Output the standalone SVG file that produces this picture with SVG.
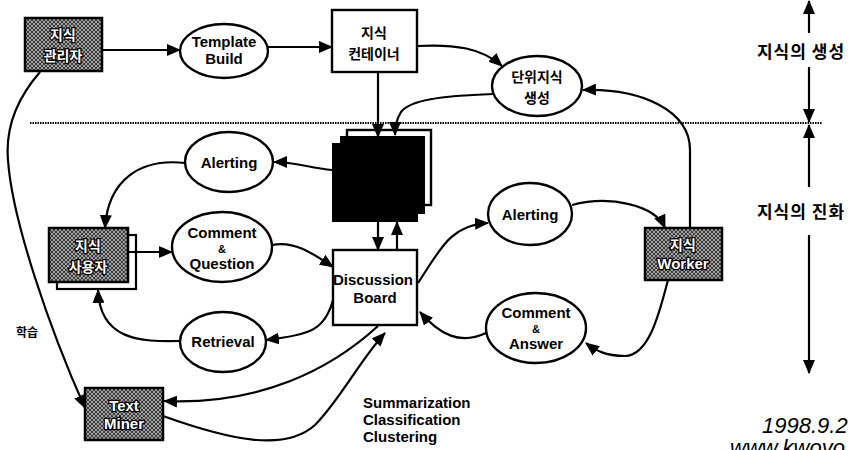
<svg xmlns="http://www.w3.org/2000/svg" width="855" height="450" viewBox="0 0 855 450">
<defs>
<marker id="ah" markerUnits="userSpaceOnUse" markerWidth="14" markerHeight="12" refX="13" refY="6" orient="auto"><path d="M0,0 L14,6 L0,12 z" fill="#000"/></marker>
<pattern id="hatch" width="4" height="4" patternUnits="userSpaceOnUse"><rect width="4" height="4" fill="#a0a0a0"/><path d="M0,0 L4,4 M4,0 L0,4" stroke="#333" stroke-width="0.9"/></pattern>
<style>
.n{fill:#fff;stroke:#000;stroke-width:2.4}
.g{fill:url(#hatch);stroke:#000;stroke-width:2.5}
.t{font-family:"Liberation Sans",Arial,sans-serif;font-weight:bold;font-size:15px;text-anchor:middle;fill:#000}
.a{font-size:11px}
.k{font-family:"Noto Sans CJK KR","Liberation Sans",sans-serif;font-weight:bold;font-size:14px;text-anchor:middle;fill:#000}
.w{fill:#fff;stroke:#000;stroke-width:2.5;paint-order:stroke}
.c path{fill:none;stroke:#000;stroke-width:2.2}
.i{font-family:"Liberation Sans",Arial,sans-serif;font-style:italic;font-size:22px}
</style>
</defs>
<rect width="855" height="450" fill="#fff"/>
<line x1="30" y1="123" x2="822" y2="123" stroke="#000" stroke-width="2" stroke-dasharray="1.5 1"/>

<g id="manager"><rect class="g" x="25" y="18" width="77" height="53"/><text class="k w" x="63" y="40">지식</text><text class="k w" x="63" y="61">관리자</text></g>
<g id="template"><ellipse class="n" cx="224" cy="51" rx="44" ry="27"/><text class="t" x="224" y="47">Template</text><text class="t" x="224" y="64">Build</text></g>
<g id="container"><rect class="n" x="332" y="10" width="85" height="62"/><text class="k" x="374" y="38">지식</text><text class="k" x="374" y="59">컨테이너</text></g>
<g id="unit"><ellipse class="n" cx="537" cy="86" rx="45" ry="30"/><text class="k" x="537" y="82">단위지식</text><text class="k" x="537" y="103">생성</text></g>
<g id="store"><rect x="347" y="130" width="84" height="75" fill="#fff" stroke="#000" stroke-width="2.4"/><rect x="340" y="136" width="85" height="78" fill="#000"/><rect x="332" y="143" width="86" height="79" fill="#000"/></g>
<g id="alert1"><ellipse class="n" cx="229" cy="162" rx="44" ry="30"/><text class="t" x="229" y="168">Alerting</text></g>
<g id="user"><rect x="57" y="235" width="79" height="54" fill="#fff" stroke="#000" stroke-width="2.2"/><rect class="g" x="49" y="228" width="79" height="54"/><text class="k w" x="88" y="251">지식</text><text class="k w" x="88" y="272">사용자</text></g>
<g id="cq"><ellipse class="n" cx="222" cy="247" rx="50" ry="35"/><text class="t" x="222" y="238">Comment</text><text class="t a" x="222" y="253">&amp;</text><text class="t" x="222" y="269">Question</text></g>
<g id="board"><rect class="n" x="333" y="250" width="84" height="75"/><text class="t" x="373" y="285">Discussion</text><text class="t" x="375" y="303">Board</text></g>
<g id="alert2"><ellipse class="n" cx="530" cy="214" rx="42" ry="31"/><text class="t" x="530" y="220">Alerting</text></g>
<g id="worker"><rect class="g" x="645" y="228" width="77" height="52"/><text class="k w" x="683" y="250">지식</text><text class="t w" x="683" y="269">Worker</text></g>
<g id="ca"><ellipse class="n" cx="536" cy="328" rx="50" ry="35"/><text class="t" x="536" y="318">Comment</text><text class="t a" x="536" y="333">&amp;</text><text class="t" x="536" y="349">Answer</text></g>
<g id="retrieval"><ellipse class="n" cx="223" cy="342" rx="43" ry="30"/><text class="t" x="223" y="347">Retrieval</text></g>
<g id="miner"><rect class="g" x="85" y="388" width="78" height="52"/><text class="t w" x="124" y="411">Text</text><text class="t w" x="124" y="429">Miner</text></g>

<g id="connectors" class="c">
<path d="M102,50 L180,50" marker-end="url(#ah)"/>
<path d="M268,47 L332,47" marker-end="url(#ah)"/>
<path d="M417,46 C455,44 482,48 502,66" marker-end="url(#ah)"/>
<path d="M690,228 L690,150 C690,110 640,88 583,90" marker-end="url(#ah)"/>
<path d="M378,72 L378,137" marker-end="url(#ah)"/>
<path d="M493,94 C440,96 410,100 401,112 C396,120 395,126 395,135" marker-end="url(#ah)"/>
<path d="M332,170 C310,168 295,162 274,162" marker-end="url(#ah)"/>
<path d="M185,163 C140,158 108,180 105,228" marker-end="url(#ah)"/>
<path d="M128,252 L172,252" marker-end="url(#ah)"/>
<path d="M272,245 C295,240 315,255 333,267" marker-end="url(#ah)"/>
<path d="M378,222 L378,250" marker-end="url(#ah)"/>
<path d="M397,250 L397,222" marker-end="url(#ah)"/>
<path d="M418,283 C440,250 450,225 488,223" marker-end="url(#ah)"/>
<path d="M572,205 C610,195 655,205 665,228" marker-end="url(#ah)"/>
<path d="M668,280 C660,310 650,355 625,356 C605,356 595,350 586,343" marker-end="url(#ah)"/>
<path d="M486,333 C460,345 440,335 420,312" marker-end="url(#ah)"/>
<path d="M333,300 C325,330 310,335 266,340" marker-end="url(#ah)"/>
<path d="M180,341 C140,342 100,340 98,290" marker-end="url(#ah)"/>
<path d="M40,72 C20,95 5,125 8,160 C12,220 50,330 85,408" marker-end="url(#ah)"/>
<path d="M378,326 C330,370 260,405 164,401" marker-end="url(#ah)"/>
<path d="M163,416 C230,440 285,452 315,425 C340,400 360,360 385,333" marker-end="url(#ah)"/>
<path d="M809,33 L809,1" marker-end="url(#ah)"/>
<path d="M809,67 L809,122" marker-end="url(#ah)"/>
<path d="M809,187 L809,125" marker-end="url(#ah)"/>
<path d="M809,235 L809,373" marker-end="url(#ah)"/>
</g>

<text class="k" x="801" y="58" style="font-size:17px;letter-spacing:1px">지식의 생성</text>
<text class="k" x="801" y="218" style="font-size:17px;letter-spacing:1px">지식의 진화</text>
<text class="k" x="27" y="337" style="font-size:12px">학습</text>
<text class="t" x="363" y="408" style="text-anchor:start">Summarization</text>
<text class="t" x="363" y="425" style="text-anchor:start">Classification</text>
<text class="t" x="363" y="442" style="text-anchor:start">Clustering</text>
<text class="i" x="762" y="433">1998.9.2</text>
<text class="i" x="730" y="455">www.kwoyo</text>
</svg>
